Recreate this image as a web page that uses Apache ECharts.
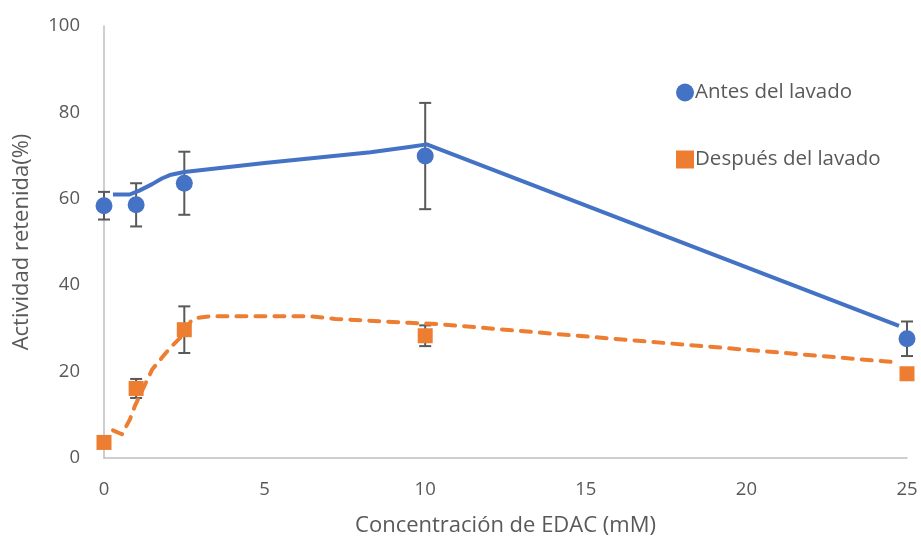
<!DOCTYPE html>
<html>
<head>
<meta charset="utf-8">
<script src="https://cdn.jsdelivr.net/npm/echarts@6/dist/echarts.min.js"></script>
<style>html,body{margin:0;padding:0;background:#fff}#c{width:921px;height:542px}</style>
</head>
<body>
<div id="c"></div>
<script>
// EDAC concentration (mM)
var xValues = [0, 1, 2.5, 10, 25];
// Antes del lavado
var antes = [58.4, 58.6, 63.6, 69.9, 27.6];
var antesErr = [3.2, 5.0, 7.3, 12.3, 4.0];
// Después del lavado
var despues = [3.6, 16.1, 29.7, 28.3, 19.5];
var despuesErr = [0, 2.2, 5.4, 2.4, 0];
// Trend curves [x, y]
var antesTrendX = [0.28, 0.8, 1.1, 1.5, 1.8, 2.05, 2.5, 5, 8.3, 9.5, 10.05, 24.75];
var antesTrendY = [61, 61, 61.9, 63.4, 64.7, 65.5, 66.2, 68.3, 70.8, 72, 72.6, 30.6];
var despuesTrendX = [0.28, 0.56, 0.81, 0.97, 1.5, 1.8, 2.06, 2.37, 2.6, 2.7, 2.85, 3.3, 6.4, 7.2, 8.7, 9.5, 10.4, 24.75];
var despuesTrendY = [6.4, 5.5, 9, 12.2, 20.5, 23.2, 25.5, 27.8, 30.3, 31.6, 32.4, 32.8, 32.8, 32.2, 31.6, 31.3, 31, 22.1];
var yTicks = [0, 20, 40, 60, 80, 100];
var xTicks = [0, 5, 10, 15, 20, 25];

var FONT = '"Open Sans", "Liberation Sans", sans-serif';
var TXT = '#595959';
function pairs(a, b) { return a.map(function (v, i) { return [v, b[i]]; }); }
function errData(vals, errs) {
  return xValues.map(function (x, i) { return [x, vals[i] - errs[i], vals[i] + errs[i]]; })
    .filter(function (d, i) { return errs[i] > 0; });
}
function errRender(params, api) {
  var lo = api.coord([api.value(0), api.value(1)]);
  var hi = api.coord([api.value(0), api.value(2)]);
  var w = 6;
  var st = { stroke: '#595959', lineWidth: 2 };
  return { type: 'group', children: [
    { type: 'line', shape: { x1: lo[0], y1: lo[1], x2: hi[0], y2: hi[1] }, style: st },
    { type: 'line', shape: { x1: lo[0] - w, y1: lo[1], x2: lo[0] + w, y2: lo[1] }, style: st },
    { type: 'line', shape: { x1: hi[0] - w, y1: hi[1], x2: hi[0] + w, y2: hi[1] }, style: st }
  ]};
}
var chart = echarts.init(document.getElementById('c'), null, { renderer: 'canvas' });
chart.setOption({
  animation: false,
  backgroundColor: '#fff',
  grid: { left: 104, right: 14, top: 26, bottom: 81 },
  legend: {
    orient: 'vertical', left: 671, top: 77, itemGap: 46, itemWidth: 18, itemHeight: 18,
    data: [{ name: 'Antes del lavado', icon: 'circle' }, { name: 'Después del lavado', icon: 'rect' }],
    textStyle: { fontFamily: FONT, fontSize: 20.5, lineHeight: 18, color: TXT, padding: [0, 0, 0, -4] }
  },
  xAxis: {
    type: 'value', min: 0, max: 25, interval: 5,
    name: 'Concentración de EDAC (mM)', nameLocation: 'middle', nameGap: 57,
    nameTextStyle: { fontFamily: FONT, fontSize: 22, color: TXT },
    axisLine: { show: true, lineStyle: { color: '#bfbfbf', width: 1.5 } },
    axisTick: { show: false }, splitLine: { show: false },
    axisLabel: { fontFamily: FONT, fontSize: 18.5, color: TXT, margin: 22 }
  },
  yAxis: {
    type: 'value', min: 0, max: 100, interval: 20,
    name: 'Actividad retenida(%)', nameLocation: 'middle', nameGap: 71,
    nameTextStyle: { fontFamily: FONT, fontSize: 22, color: TXT },
    axisLine: { show: true, lineStyle: { color: '#bfbfbf', width: 1.5 } },
    axisTick: { show: false }, splitLine: { show: false },
    axisLabel: { fontFamily: FONT, fontSize: 18.5, color: TXT, margin: 24 }
  },
  series: [
    { type: 'custom', name: 'errA', renderItem: errRender, data: errData(antes, antesErr), z: 1 },
    { type: 'custom', name: 'errD', renderItem: errRender, data: errData(despues, despuesErr), z: 1 },
    { type: 'line', name: 'trendA', data: pairs(antesTrendX, antesTrendY), showSymbol: false, smooth: false,
      lineStyle: { color: '#4472c4', width: 4, join: 'round' }, z: 2 },
    { type: 'line', name: 'trendD', data: pairs(despuesTrendX, despuesTrendY), showSymbol: false, smooth: false,
      lineStyle: { color: '#ed7d31', width: 4, type: [10, 9], cap: 'round', join: 'round' }, z: 2 },
    { type: 'scatter', name: 'Antes del lavado', data: pairs(xValues, antes), symbol: 'circle', symbolSize: 17,
      itemStyle: { color: '#4472c4', opacity: 1 }, z: 3 },
    { type: 'scatter', name: 'Después del lavado', data: pairs(xValues, despues), symbol: 'rect', symbolSize: 15,
      itemStyle: { color: '#ed7d31', opacity: 1 }, z: 3 }
  ]
});
</script>
</body>
</html>
